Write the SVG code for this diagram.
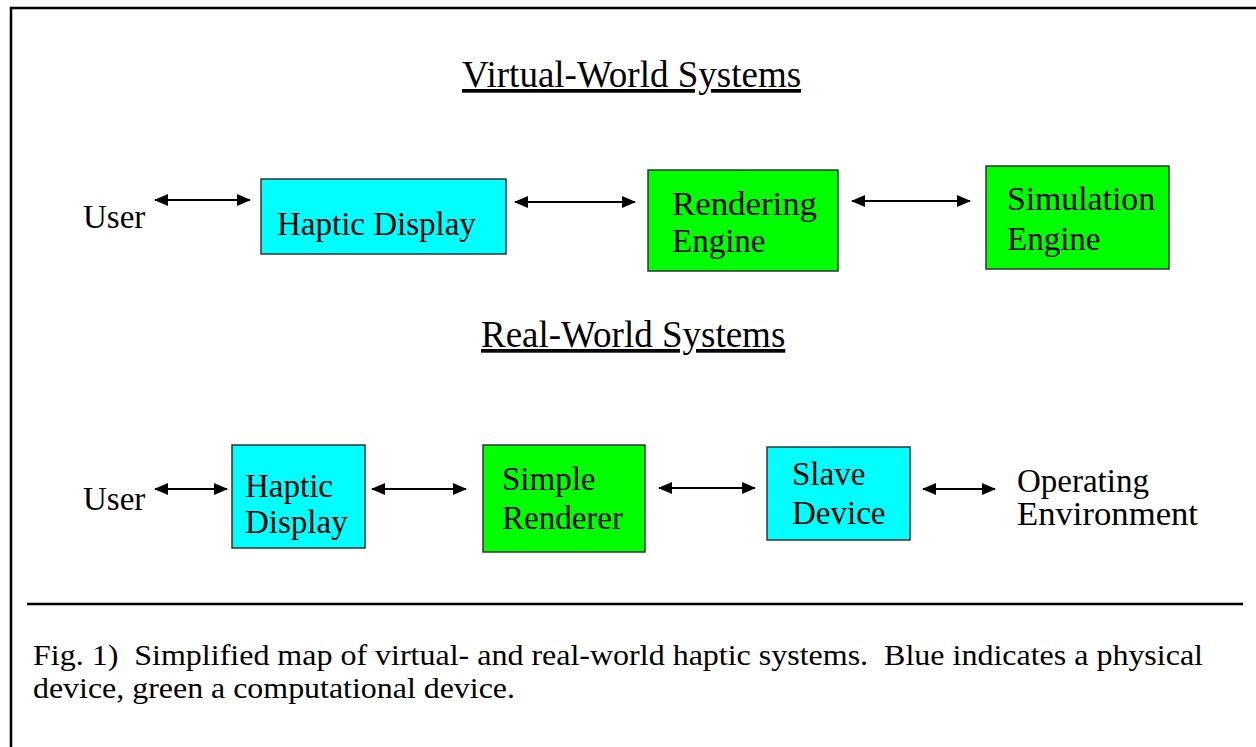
<svg xmlns="http://www.w3.org/2000/svg" width="1256" height="747" viewBox="0 0 1256 747">
<defs>
<marker id="ah" viewBox="0 0 14 12" refX="13" refY="6" markerWidth="14" markerHeight="12" markerUnits="userSpaceOnUse" orient="auto-start-reverse">
<path d="M0,0 L14,6 L0,12 Z" fill="#000"/>
</marker>
<style>
text{font-family:'Liberation Serif','Times New Roman','DejaVu Serif',serif;fill:#000}
.n{font-size:33px}
.h{font-size:37px;text-decoration:underline}
.c{font-size:29px}
.blue{fill:#00FFFF;stroke:#333;stroke-width:1.5}
.green{fill:#00FF00;stroke:#333;stroke-width:1.5}
.ar{stroke:#000;stroke-width:2;fill:none;marker-start:url(#ah);marker-end:url(#ah)}
</style>
</defs>
<rect width="1256" height="747" fill="#fff"/>
<rect x="11" y="8" width="1260" height="760" fill="none" stroke="#000" stroke-width="2.5"/>
<line x1="27" y1="604" x2="1243" y2="604" stroke="#000" stroke-width="2.5"/>

<g id="title-virtual"><text class="h" x="462" y="87">Virtual-World Systems</text></g>
<g id="title-real"><text class="h" x="481" y="347">Real-World Systems</text></g>

<g id="user1"><text class="n" x="83" y="228">User</text></g>
<g id="haptic1"><rect class="blue" x="261" y="179" width="245" height="75"/><text class="n" x="277" y="235">Haptic Display</text></g>
<g id="rendering"><rect class="green" x="648" y="170" width="190" height="101"/><text class="n" x="672" y="215" textLength="145" lengthAdjust="spacingAndGlyphs">Rendering</text><text class="n" x="672" y="252">Engine</text></g>
<g id="simulation"><rect class="green" x="986" y="166" width="183" height="103"/><text class="n" x="1007" y="210" textLength="148" lengthAdjust="spacingAndGlyphs">Simulation</text><text class="n" x="1007" y="250">Engine</text></g>

<g id="user2"><text class="n" x="83" y="510">User</text></g>
<g id="haptic2"><rect class="blue" x="232" y="445" width="133" height="103"/><text class="n" x="245" y="497">Haptic</text><text class="n" x="245" y="533">Display</text></g>
<g id="simple"><rect class="green" x="483" y="445" width="162" height="107"/><text class="n" x="502" y="490">Simple</text><text class="n" x="502" y="529">Renderer</text></g>
<g id="slave"><rect class="blue" x="767" y="447" width="143" height="93"/><text class="n" x="792" y="485">Slave</text><text class="n" x="792" y="524">Device</text></g>
<g id="environment"><text class="n" x="1017" y="492">Operating</text><text class="n" x="1017" y="525" textLength="181" lengthAdjust="spacingAndGlyphs">Environment</text></g>

<g id="connectors">
<line class="ar" x1="155" y1="200" x2="250" y2="200"/>
<line class="ar" x1="515" y1="202" x2="635" y2="202"/>
<line class="ar" x1="852" y1="201" x2="970" y2="201"/>
<line class="ar" x1="155" y1="489" x2="227" y2="489"/>
<line class="ar" x1="372" y1="489" x2="466" y2="489"/>
<line class="ar" x1="659" y1="488" x2="755" y2="488"/>
<line class="ar" x1="923" y1="489" x2="995" y2="489"/>
</g>

<g id="caption">
<text class="c" x="33" y="665" xml:space="preserve" textLength="1170" lengthAdjust="spacingAndGlyphs">Fig. 1)  Simplified map of virtual- and real-world haptic systems.  Blue indicates a physical</text>
<text class="c" x="33" y="698" textLength="482" lengthAdjust="spacingAndGlyphs">device, green a computational device.</text>
</g>
</svg>
